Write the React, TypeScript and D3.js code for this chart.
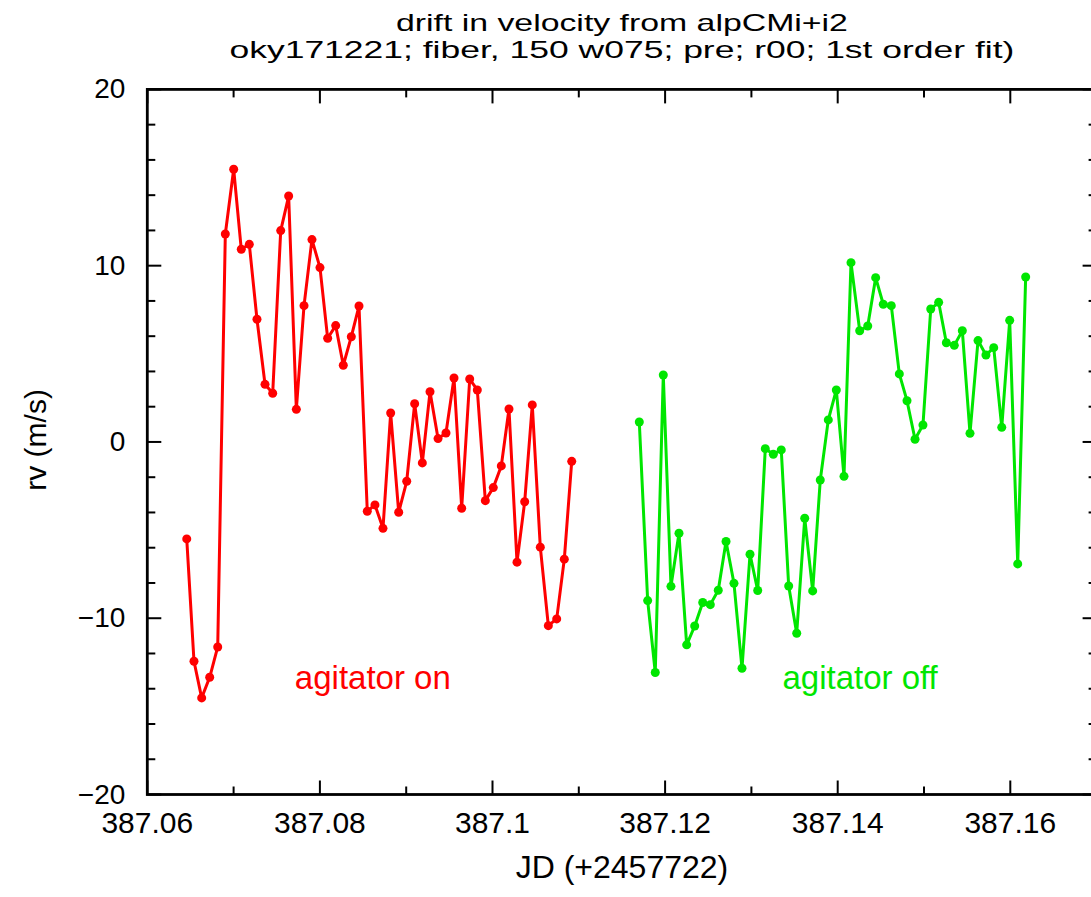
import React from "react";
import * as d3 from "d3";

const titleLines = [
  "drift in velocity from alpCMi+i2",
  "oky171221; fiber, 150 w075; pre; r00; 1st order fit)",
];
const xLabel = "JD (+2457722)";
const yLabel = "rv (m/s)";

const xTickValues = [387.06, 387.08, 387.1, 387.12, 387.14, 387.16];
const xTickLabels = ["387.06", "387.08", "387.1", "387.12", "387.14", "387.16"];
const xMinorTicks = [387.07, 387.09, 387.11, 387.13, 387.15, 387.17];
const yTickValues = [-20, -10, 0, 10, 20];
const yTickLabels = ["\u221220", "\u221210", "0", "10", "20"];
const yMinorTicks = [-18, -16, -14, -12, -8, -6, -4, -2, 2, 4, 6, 8, 12, 14, 16, 18];

const onJD = [
  387.06457, 387.06541, 387.0663, 387.06723, 387.06816, 387.06904, 387.07001, 387.07089,
  387.07182, 387.07271, 387.07364, 387.07453, 387.07546, 387.07638, 387.07727, 387.07816,
  387.07908, 387.08001, 387.0809, 387.08183, 387.08271, 387.08364, 387.08453, 387.08549,
  387.08638, 387.08731, 387.0882, 387.08913, 387.09006, 387.09098, 387.09187, 387.09276,
  387.09369, 387.09461, 387.09554, 387.09643, 387.09736, 387.09824, 387.09917, 387.10009,
  387.10102, 387.10191, 387.10284, 387.10373, 387.10461, 387.10554, 387.10647, 387.10744,
  387.10832, 387.10918,
];
const onRV = [
  -5.5, -12.44, -14.52, -13.35, -11.63, 11.8, 15.47, 10.93, 11.21, 6.96, 3.27, 2.76, 11.99,
  13.95, 1.85, 7.73, 11.48, 9.89, 5.88, 6.6, 4.35, 5.97, 7.71, -3.93, -3.57, -4.9, 1.64,
  -3.99, -2.23, 2.17, -1.19, 2.85, 0.19, 0.51, 3.63, -3.76, 3.57, 2.95, -3.33, -2.59, -1.36,
  1.87, -6.82, -3.39, 2.1, -5.97, -10.42, -10.04, -6.65, -1.1,
];
const offJD = [
  387.11701, 387.11798, 387.11886, 387.11979, 387.12068, 387.12161, 387.1225, 387.12343,
  387.12436, 387.12524, 387.12616, 387.12706, 387.12798, 387.12891, 387.12984, 387.13073,
  387.13161, 387.13254, 387.13346, 387.13432, 387.13525, 387.13618, 387.1371, 387.13798,
  387.13891, 387.13984, 387.14073, 387.14154, 387.14255, 387.14348, 387.1444, 387.14528,
  387.14621, 387.14714, 387.14803, 387.14896, 387.14988, 387.15078, 387.1517, 387.15259,
  387.15351, 387.15444, 387.15533, 387.15626, 387.15718, 387.15808, 387.15901, 387.15993,
  387.16086, 387.16178,
];
const offRV = [
  1.13, -9.0, -13.08, 3.8, -8.19, -5.18, -11.51, -10.44, -9.11, -9.23, -8.41, -5.65, -8.02,
  -12.84, -6.37, -8.43, -0.38, -0.7, -0.45, -8.17, -10.85, -4.33, -8.45, -2.16, 1.25, 2.95,
  -1.95, 10.17, 6.31, 6.58, 9.32, 7.81, 7.73, 3.86, 2.34, 0.15, 0.96, 7.54, 7.92, 5.63, 5.48,
  6.31, 0.49, 5.75, 4.93, 5.35, 0.83, 6.9, -6.92, 9.36,
];

const series = [
  { name: "agitator on", jd: onJD, rv: onRV, color: "#ff0000", labelJD: 387.0771, labelRV: -14.0 },
  { name: "agitator off", jd: offJD, rv: offRV, color: "#00e600", labelJD: 387.1336, labelRV: -14.0 },
];

const W = 1091;
const H = 897;
const FONT = "'Liberation Sans', Arial, sans-serif";
const titleWidths = [452, 785];

export default function App() {
  const x = d3.scaleLinear().domain([387.06, 387.17]).range([147.3, 1096.6]);
  const y = d3.scaleLinear().domain([-20, 20]).range([794.5, 89.4]);
  const [x0, x1] = x.range();
  const [yb, yt] = y.range();
  const line = d3
    .line<[number, number]>()
    .x((d) => x(d[0]))
    .y((d) => y(d[1]));

  const axisColor = "#000";
  const majorLen = 14;
  const minorLen = 8;

  return (
    <svg
      width={W}
      height={H}
      style={{ position: "absolute", left: 0, top: 0, display: "block", background: "#fff" }}
      fontFamily={FONT}
    >
      <rect x={0} y={0} width={W} height={H} fill="#fff" />
      {/* title */}
      {titleLines.map((t, i) => (
        <text
          key={t}
          x={(x0 + x1) / 2 - titleWidths[i] / 2}
          y={31 + i * 27}
          fontSize={24}
          fill="#000"
          textLength={titleWidths[i]}
          lengthAdjust="spacingAndGlyphs"
        >
          {t}
        </text>
      ))}
      {/* frame */}
      <rect x={x0} y={yt} width={x1 - x0} height={yb - yt} fill="none" stroke={axisColor} strokeWidth={2.8} />
      {/* x ticks */}
      {xTickValues.map((v) => (
        <g key={"xt" + v}>
          <line x1={x(v)} x2={x(v)} y1={yb} y2={yb - majorLen} stroke={axisColor} strokeWidth={2} />
          <line x1={x(v)} x2={x(v)} y1={yt} y2={yt + majorLen} stroke={axisColor} strokeWidth={2} />
        </g>
      ))}
      {xMinorTicks.map((v) => (
        <g key={"xm" + v}>
          <line x1={x(v)} x2={x(v)} y1={yb} y2={yb - minorLen} stroke={axisColor} strokeWidth={2} />
          <line x1={x(v)} x2={x(v)} y1={yt} y2={yt + minorLen} stroke={axisColor} strokeWidth={2} />
        </g>
      ))}
      {xTickValues.map((v, i) => (
        <text key={"xl" + v} x={x(v)} y={yb + 38} textAnchor="middle" fontSize={30} fill="#000">
          {xTickLabels[i]}
        </text>
      ))}
      {/* y ticks */}
      {yTickValues.map((v) => (
        <g key={"yt" + v}>
          <line x1={x0} x2={x0 + majorLen} y1={y(v)} y2={y(v)} stroke={axisColor} strokeWidth={2} />
          <line x1={x1} x2={x1 - majorLen} y1={y(v)} y2={y(v)} stroke={axisColor} strokeWidth={2} />
        </g>
      ))}
      {yMinorTicks.map((v) => (
        <g key={"ym" + v}>
          <line x1={x0} x2={x0 + minorLen} y1={y(v)} y2={y(v)} stroke={axisColor} strokeWidth={2} />
          <line x1={x1} x2={x1 - minorLen} y1={y(v)} y2={y(v)} stroke={axisColor} strokeWidth={2} />
        </g>
      ))}
      {yTickValues.map((v, i) => (
        <text key={"yl" + v} x={x0 - 22} y={y(v) + 9} textAnchor="end" fontSize={28} fill="#000">
          {yTickLabels[i]}
        </text>
      ))}
      {/* axis labels */}
      <text x={(x0 + x1) / 2} y={878} textAnchor="middle" fontSize={32} fill="#000">
        {xLabel}
      </text>
      <text
        transform={`translate(46, ${y(0) - 2}) rotate(-90)`}
        textAnchor="middle"
        fontSize={30}
        fill="#000"
      >
        {yLabel}
      </text>
      {/* series */}
      {series.map((s) => {
        const pts: [number, number][] = s.jd.map((j, i) => [j, s.rv[i]]);
        return (
          <g key={s.name}>
            <path d={line(pts) || ""} fill="none" stroke={s.color} strokeWidth={3} strokeLinejoin="round" />
            {pts.map((p, i) => (
              <circle key={i} cx={x(p[0])} cy={y(p[1])} r={4.5} fill={s.color} />
            ))}
            <text x={x(s.labelJD)} y={y(s.labelRV)} textAnchor="start" fontSize={33} fill={s.color}>
              {s.name}
            </text>
          </g>
        );
      })}
    </svg>
  );
}
